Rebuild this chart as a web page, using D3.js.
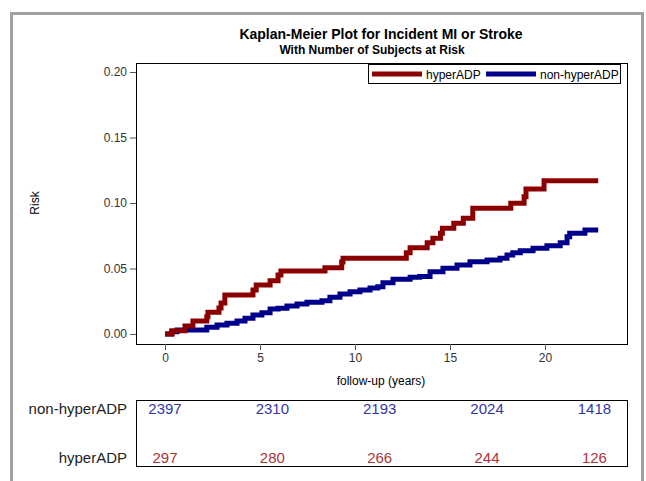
<!DOCTYPE html>
<html lang="en">
<head>
    <meta charset="UTF-8">
    <title>Kaplan-Meier Plot</title>
    <script src="https://cdn.jsdelivr.net/npm/d3@7"></script>
    <style>
        body { margin: 0; background: #fff; }
        text { font-family: "Liberation Sans", Arial, sans-serif; }
    </style>
</head>
<body>
    <div id="km-plot"></div>
    <script>
        // step times (years) and cumulative risk
        const hyperTimes = [0, 0.37, 1.05, 1.47, 2.2, 2.26, 2.84, 2.95, 3.15, 4.63, 4.8, 5.53, 5.95, 6.1, 8.42, 9.3, 9.37,
            12.7, 12.9, 13.8, 14.1, 14.5, 14.6, 15.2, 15.7, 16.2, 18.2, 18.9, 19.0, 19.95, 22.8];
        const hyperRisk = [0, 0.0025, 0.0061, 0.0099, 0.0132, 0.0166, 0.0198, 0.0237, 0.0298, 0.0336, 0.0374, 0.0407, 0.045, 0.0481, 0.0506, 0.055, 0.0578,
            0.062, 0.0659, 0.0697, 0.073, 0.0769, 0.0807, 0.0845, 0.0883, 0.096, 0.0998, 0.1048, 0.1107, 0.117, 0.117];

        const nonHyperTimes = [0, 0.35, 0.63, 2.2, 2.74, 3.26, 3.79, 4.21, 4.63, 5.1, 5.53, 5.95, 6.42, 6.95, 7.47, 8.26, 8.68, 9.21, 9.74,
            10.26, 10.79, 11.2, 11.47, 12.0, 12.9, 13.4, 13.95, 14.63, 15.37, 16.05, 16.95, 17.63, 18.0, 18.3, 18.7, 19.37, 20.1, 20.8,
            21.16, 21.3, 22.1, 22.8];
        const nonHyperRisk = [0, 0.0018, 0.003, 0.0051, 0.0069, 0.0082, 0.0099, 0.012, 0.0145, 0.0163, 0.019, 0.0196, 0.0214, 0.0229, 0.0242, 0.0254, 0.028, 0.0305, 0.0323,
            0.0336, 0.0352, 0.0361, 0.0392, 0.0418, 0.0433, 0.0438, 0.0476, 0.0502, 0.0527, 0.0552, 0.0565, 0.0578, 0.0603, 0.062, 0.0636, 0.0654, 0.0674, 0.0697,
            0.0743, 0.0769, 0.0794, 0.0794];

        // number at risk table
        const atRiskTimes = [0, 5.65, 11.3, 16.95, 22.6];
        const nonHyperAtRisk = [2397, 2310, 2193, 2024, 1418];
        const hyperAtRisk = [297, 280, 266, 244, 126];

        const yTicks = [0, 0.05, 0.10, 0.15, 0.20];
        const xTicks = [0, 5, 10, 15, 20];

        const W = 646, H = 481;
        const plot = { left: 136, right: 627, top: 63, bottom: 344 };
        const red = "#8b0000", blue = "#00008b";

        const svg = d3.select("#km-plot").append("svg")
            .attr("width", W).attr("height", H);

        svg.append("rect").attr("width", W).attr("height", H).attr("fill", "#fff");

        // gray outer frame
        svg.append("rect")
            .attr("x", 11.5).attr("y", 13.5)
            .attr("width", 631).attr("height", 490)
            .attr("fill", "none").attr("stroke", "#a0a0a0").attr("stroke-width", 3);

        const x = d3.scaleLinear().domain([-29 / 19, 462 / 19]).range([plot.left, plot.right]);
        const y = d3.scaleLinear().domain([-10 / 1310, 271 / 1310]).range([plot.bottom, plot.top]);

        // titles
        svg.append("text").attr("x", 381).attr("y", 39)
            .attr("text-anchor", "middle").attr("font-size", 14).attr("font-weight", "bold")
            .text("Kaplan-Meier Plot for Incident MI or Stroke");
        svg.append("text").attr("x", 372).attr("y", 54)
            .attr("text-anchor", "middle").attr("font-size", 12).attr("font-weight", "bold")
            .text("With Number of Subjects at Risk");

        // plot frame
        svg.append("rect")
            .attr("x", plot.left + 0.5).attr("y", plot.top + 0.5)
            .attr("width", plot.right - plot.left).attr("height", plot.bottom - plot.top)
            .attr("fill", "none").attr("stroke", "#000");

        // axes
        const yAxis = svg.append("g")
            .attr("transform", `translate(${plot.left},0)`)
            .call(d3.axisLeft(y).tickValues(yTicks).tickFormat(d3.format(".2f")).tickSize(6).tickSizeOuter(0));
        const xAxis = svg.append("g")
            .attr("transform", `translate(0,${plot.bottom})`)
            .call(d3.axisBottom(x).tickValues(xTicks).tickSize(6).tickSizeOuter(0));
        [yAxis, xAxis].forEach(g => {
            g.select(".domain").remove();
            g.selectAll(".tick line").attr("stroke", "#555");
            g.selectAll(".tick text").attr("font-size", 12).attr("fill", "#333")
                .attr("font-family", "Liberation Sans, Arial, sans-serif");
        });
        yAxis.selectAll(".tick text").attr("x", -9);

        // axis labels
        svg.append("text").attr("x", 381).attr("y", 385)
            .attr("text-anchor", "middle").attr("font-size", 12)
            .text("follow-up (years)");
        svg.append("text")
            .attr("transform", "translate(39,203) rotate(-90)")
            .attr("text-anchor", "middle").attr("font-size", 12)
            .text("Risk");

        // KM step lines
        const line = d3.line()
            .x(d => x(d[0])).y(d => y(d[1]))
            .curve(d3.curveStepAfter);

        const series = [
            { times: nonHyperTimes, risk: nonHyperRisk, color: blue },
            { times: hyperTimes, risk: hyperRisk, color: red }
        ];
        series.forEach(s => {
            svg.append("path")
                .datum(s.times.map((t, i) => [t, s.risk[i]]))
                .attr("d", line)
                .attr("fill", "none")
                .attr("stroke", s.color)
                .attr("stroke-width", 5);
        });

        // legend
        const lg = svg.append("g");
        lg.append("rect").attr("x", 368.5).attr("y", 64.5).attr("width", 252).attr("height", 19)
            .attr("fill", "#fff").attr("stroke", "#000");
        const legendItems = [
            { label: "hyperADP", color: red, x0: 372 },
            { label: "non-hyperADP", color: blue, x0: 486 }
        ];
        legendItems.forEach(it => {
            lg.append("line").attr("x1", it.x0).attr("x2", it.x0 + 50).attr("y1", 74).attr("y2", 74)
                .attr("stroke", it.color).attr("stroke-width", 5);
            lg.append("text").attr("x", it.x0 + 54).attr("y", 78.5)
                .attr("font-size", 12).text(it.label);
        });

        // at-risk table
        svg.append("rect")
            .attr("x", plot.left + 0.5).attr("y", 400.5)
            .attr("width", plot.right - plot.left).attr("height", 66)
            .attr("fill", "none").attr("stroke", "#000");

        const rows = [
            { label: "non-hyperADP", values: nonHyperAtRisk, color: "#3535a8", yb: 414 },
            { label: "hyperADP", values: hyperAtRisk, color: "#a83535", yb: 463 }
        ];
        rows.forEach(r => {
            svg.append("text").attr("x", 127).attr("y", r.yb)
                .attr("text-anchor", "end").attr("font-size", 15).attr("fill", "#222")
                .text(r.label);
            svg.selectAll(null)
                .data(r.values)
                .enter().append("text")
                .attr("x", (d, i) => x(atRiskTimes[i]))
                .attr("y", r.yb)
                .attr("text-anchor", "middle")
                .attr("font-size", 15)
                .attr("fill", r.color)
                .text(d => d);
        });
    </script>
</body>
</html>
